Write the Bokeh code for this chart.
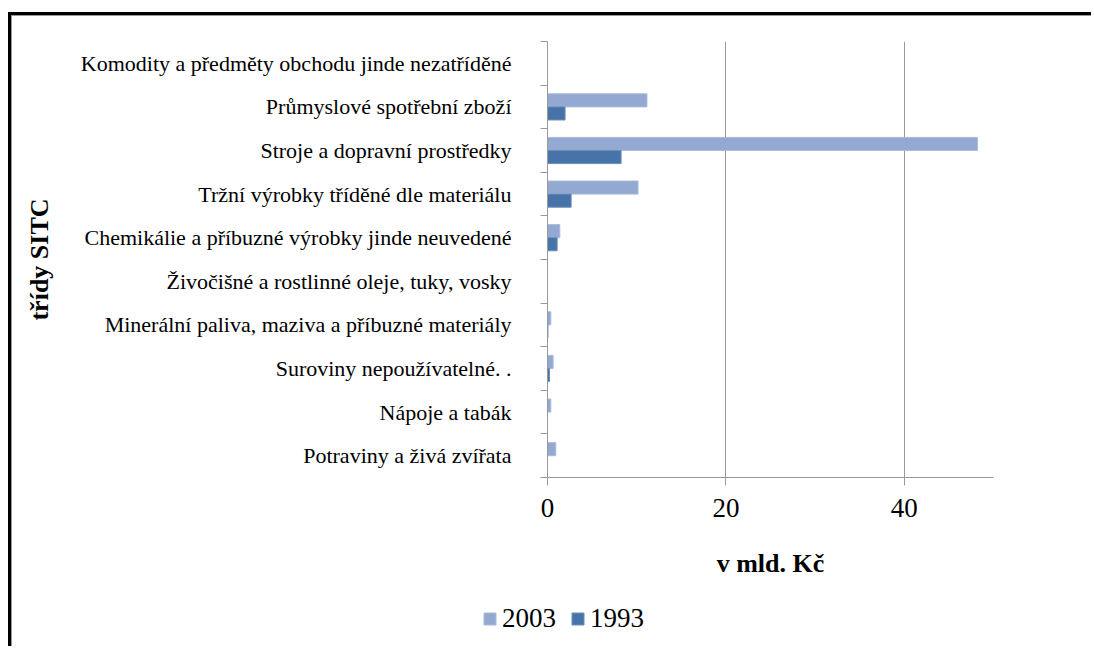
import numpy as np
from bokeh.plotting import figure
from bokeh.layouts import column, row
from bokeh.models import (FixedTicker, Legend, LegendItem, ColumnDataSource, Range1d)
from bokeh.transform import dodge
from bokeh.embed import file_html
from bokeh.resources import INLINE

categories = [
    "Potraviny a živá zvířata",
    "Nápoje a tabák",
    "Suroviny nepoužívatelné. .",
    "Minerální paliva, maziva a příbuzné materiály",
    "Živočišné a rostlinné oleje, tuky, vosky",
    "Chemikálie a příbuzné výrobky jinde neuvedené",
    "Tržní výrobky tříděné dle materiálu",
    "Stroje a dopravní prostředky",
    "Průmyslové spotřební zboží",
    "Komodity a předměty obchodu jinde nezatříděné",
]
values_2003 = [0.93, 0.37, 0.63, 0.37, 0.0, 1.38, 10.15, 48.2, 11.15, 0.0]
values_1993 = [0.0, 0.0, 0.22, 0.05, 0.0, 1.08, 2.65, 8.25, 1.97, 0.0]
x_ticks = [0, 20, 40]
series = ["2003", "1993"]
colors = ["#94A9D2", "#4673A8"]
edge_colors = ["#A9BADC", "#6A8DBA"]

pos = np.arange(len(categories)) + 0.5
src = ColumnDataSource(dict(pos=pos, cat=categories, v2003=values_2003, v1993=values_1993))

FONT = "Liberation Serif"

p = figure(width=1079, height=575, output_backend="svg", toolbar_location=None,
           x_range=Range1d(0, 50), y_range=Range1d(0, len(categories)),
           min_border_left=535, min_border_right=98, min_border_top=25, min_border_bottom=114)
p.outline_line_color = None
p.background_fill_color = "white"
p.border_fill_color = "white"

p.hbar(y=dodge("pos", 0.15, range=p.y_range), right="v2003", left=0, height=0.3,
       source=src, fill_color=colors[0], line_color=edge_colors[0], line_width=1)
p.hbar(y=dodge("pos", -0.15, range=p.y_range), right="v1993", left=0, height=0.3,
       source=src, fill_color=colors[1], line_color=edge_colors[1], line_width=1)

# x axis
p.xaxis.ticker = FixedTicker(ticks=x_ticks)
p.xaxis.minor_tick_line_color = None
p.xaxis.major_tick_in = 0
p.xaxis.major_tick_out = 8
p.xaxis.axis_line_color = "#999999"
p.xaxis.major_tick_line_color = "#999999"
p.xaxis.major_label_text_font = FONT
p.xaxis.major_label_text_font_size = "27px"
p.xaxis.major_label_text_color = "black"
p.xaxis.major_label_standoff = 13
p.xaxis.axis_label = "v mld. Kč"
p.xaxis.axis_label_text_font = FONT
p.xaxis.axis_label_text_font_style = "bold"
p.xaxis.axis_label_text_font_size = "26px"
p.xaxis.axis_label_text_color = "black"
p.xaxis.axis_label_standoff = 29

# y axis: labels at category centers, tick marks at boundaries (minor ticks)
p.yaxis.ticker = FixedTicker(ticks=list(pos), minor_ticks=list(range(len(categories) + 1)))
p.yaxis.major_label_overrides = {float(v): c for v, c in zip(pos, categories)}
p.yaxis.major_tick_line_color = None
p.yaxis.major_tick_in = 0
p.yaxis.major_tick_out = 0
p.yaxis.minor_tick_in = 0
p.yaxis.minor_tick_out = 7
p.yaxis.minor_tick_line_color = "#999999"
p.yaxis.axis_line_color = "#999999"
p.yaxis.major_label_text_font = FONT
p.yaxis.major_label_text_font_size = "22px"
p.yaxis.major_label_text_color = "black"
p.yaxis.major_label_standoff = 29
p.yaxis.axis_label = "třídy SITC"
p.yaxis.axis_label_text_font = FONT
p.yaxis.axis_label_text_font_style = "bold"
p.yaxis.axis_label_text_font_size = "26px"
p.yaxis.axis_label_text_color = "black"
p.yaxis.axis_label_standoff = 24

p.xgrid.ticker = FixedTicker(ticks=[20, 40])
p.xgrid.grid_line_color = "#999999"
p.ygrid.grid_line_color = None

# legend strip below the chart
lg = figure(width=1079, height=55, output_backend="svg", toolbar_location=None,
            x_axis_type=None, y_axis_type=None, min_border=0,
            x_range=Range1d(0, 1), y_range=Range1d(0, 1))
lg.outline_line_color = None
lg.grid.grid_line_color = None
items = []
for s, c, e in zip(series, colors, edge_colors):
    r = lg.quad(left=[-6], right=[-5], bottom=[-6], top=[-5], fill_color=c, line_color=e)
    items.append(LegendItem(label=s, renderers=[r]))
legend = Legend(items=items, location=(470, 12), orientation="horizontal",
                label_text_font=FONT, label_text_font_size="27px", label_text_color="black",
                glyph_width=15, glyph_height=15, label_standoff=5, spacing=14,
                border_line_color=None, background_fill_alpha=0, padding=0, margin=0)
lg.add_layout(legend, "center")

layout = column(p, row(lg), spacing=0,
                styles={"margin-left": "8px", "margin-top": "12px",
                        "padding-left": "1px", "padding-top": "1px",
                        "box-shadow": "inset 1px 1px 0 #999999",
                        "border-left": "3px solid black", "border-top": "3px solid black"})

open("out.html", "w").write(file_html(layout, INLINE))
